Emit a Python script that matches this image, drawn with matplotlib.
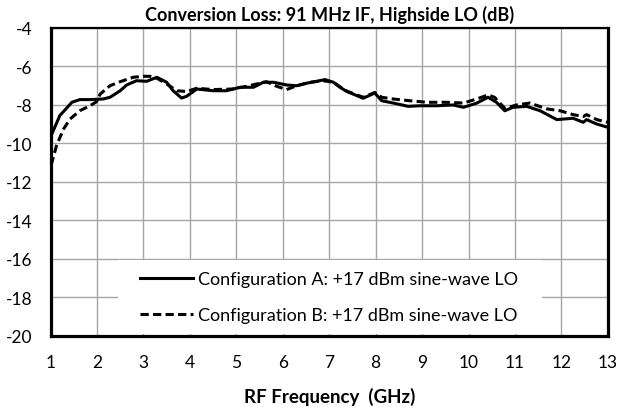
import matplotlib
matplotlib.use("Agg")
import matplotlib.pyplot as plt
from matplotlib.patches import Rectangle

plt.rcParams["font.family"] = ["Lato", "DejaVu Sans"]
plt.rcParams["axes.unicode_minus"] = False

# Configuration A: +17 dBm sine-wave LO (solid)
freq_a = [1.0, 1.03, 1.2, 1.46, 1.63, 1.85, 2.13, 2.28, 2.5, 2.64, 2.85, 3.07, 3.29, 3.5,
          3.64, 3.82, 3.93, 4.15, 4.5, 4.79, 5.08, 5.37, 5.58, 5.8, 6.08, 6.3, 6.51, 6.73,
          6.91, 7.09, 7.23, 7.38, 7.73, 7.98, 8.13, 8.38, 8.7, 8.95, 9.31, 9.67, 9.89,
          10.17, 10.42, 10.6, 10.78, 10.96, 11.25, 11.54, 11.9, 12.25, 12.47, 12.54,
          12.76, 13.0]
loss_a = [-9.6, -9.5, -8.55, -7.86, -7.72, -7.72, -7.69, -7.6, -7.26, -6.96, -6.74, -6.77,
          -6.56, -6.82, -7.26, -7.64, -7.55, -7.17, -7.26, -7.26, -7.08, -7.08, -6.82,
          -6.82, -6.96, -7.0, -6.87, -6.77, -6.68, -6.82, -7.08, -7.3, -7.65, -7.38, -7.78,
          -7.9, -8.07, -8.04, -8.04, -8.0, -8.12, -7.91, -7.6, -7.86, -8.3, -8.12, -8.07,
          -8.3, -8.76, -8.69, -8.9, -8.76, -8.99, -9.16]

# Configuration B: +17 dBm sine-wave LO (dashed)
freq_b = [1.0, 1.03, 1.13, 1.28, 1.42, 1.63, 1.85, 1.99, 2.07, 2.28, 2.5, 2.78, 3.0, 3.14,
          3.29, 3.5, 3.72, 3.93, 4.15, 4.5, 4.93, 5.22, 5.65, 5.87, 6.08, 6.3, 6.59, 6.87,
          7.09, 7.23, 7.38, 7.73, 7.98, 8.13, 8.38, 8.74, 9.1, 9.53, 9.89, 10.17, 10.42,
          10.56, 10.78, 11.03, 11.32, 11.68, 11.97, 12.25, 12.47, 12.54, 12.76, 13.0]
loss_b = [-11.1, -10.98, -10.1, -9.25, -8.73, -8.3, -8.04, -7.83, -7.43, -7.0, -6.79,
          -6.56, -6.51, -6.51, -6.61, -6.91, -7.26, -7.3, -7.13, -7.2, -7.17, -7.03, -6.79,
          -7.03, -7.2, -7.0, -6.82, -6.74, -6.82, -7.05, -7.28, -7.6, -7.35, -7.6, -7.69,
          -7.78, -7.86, -7.86, -7.9, -7.69, -7.48, -7.6, -8.18, -8.0, -7.9, -8.2, -8.3,
          -8.5, -8.6, -8.5, -8.76, -8.9]

label_a = "Configuration A: +17 dBm sine-wave LO"
label_b = "Configuration B: +17 dBm sine-wave LO"

fig = plt.figure(figsize=(6.2, 4.14), dpi=100)
ax = fig.add_axes([0.0815, 0.186, 0.899, 0.744])

ax.plot(freq_a, loss_a, color="black", lw=2.2, label=label_a, zorder=3)
ax.plot(freq_b, loss_b, color="black", lw=2.2, ls=(0, (2.7, 1.4)), label=label_b, zorder=3)

ax.set_xlim(1, 13)
ax.set_ylim(-20, -4)
ax.set_xticks(range(1, 14))
ax.set_yticks(range(-20, -3, 2))
ax.grid(True, color="#a6a6a6", lw=1.0, zorder=0)
ax.set_axisbelow(True)
ax.tick_params(length=0, labelsize=12.5)
ax.tick_params(axis="x", pad=13)
ax.tick_params(axis="y", pad=13)

for side in ["left", "right", "bottom"]:
    ax.spines[side].set_linewidth(2.3)
ax.spines["top"].set_linewidth(1.6)

# white legend area hiding the grid
ax.add_patch(Rectangle((0.121, 0.0065), 0.761, 0.241, transform=ax.transAxes,
                       facecolor="white", edgecolor="none", zorder=1))
ax.legend(loc="center left", bbox_to_anchor=(0.1605, 0.1266), frameon=False,
          fontsize=13, handlelength=2.95, handletextpad=0.28, labelspacing=1.1,
          borderpad=0, borderaxespad=0)

ax.set_title("Conversion Loss: 91 MHz IF, Highside LO (dB)", fontsize=13, fontweight="bold", pad=6)
ax.set_xlabel("RF Frequency  (GHz)", fontsize=13.5, fontweight="bold", labelpad=12)

fig.savefig("out.png", dpi=100)
